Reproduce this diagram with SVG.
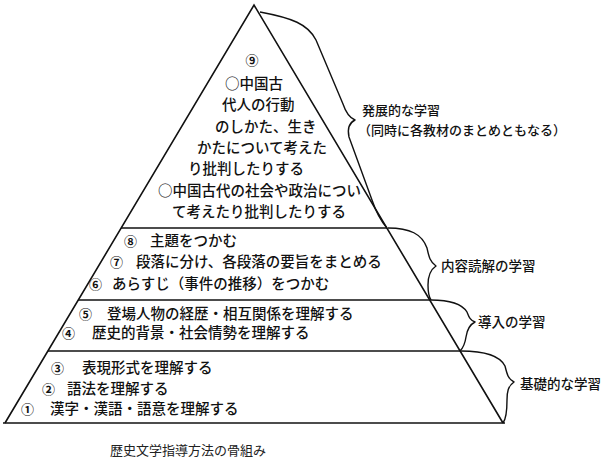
<svg xmlns="http://www.w3.org/2000/svg" width="605" height="463" viewBox="0 0 605 463">
<style>
  .t { font-family: "Noto Sans CJK JP", "Noto Sans CJK SC", sans-serif; font-size: 14.5px; font-weight: 500; fill: #111; }
  .n { font-family: "Noto Sans CJK JP", "Noto Sans CJK SC", sans-serif; font-size: 13px; font-weight: 700; fill: #111; }
  .lb { font-family: "Noto Sans CJK JP", "Noto Sans CJK SC", sans-serif; font-size: 13.5px; font-weight: 500; fill: #111; }
  .lb2 { font-family: "Noto Sans CJK JP", "Noto Sans CJK SC", sans-serif; font-size: 13px; font-weight: 500; fill: #111; }
  .cap { font-family: "Noto Sans CJK JP", "Noto Sans CJK SC", sans-serif; font-size: 13px; fill: #222; }
  .edge { fill: none; stroke: #111; stroke-width: 1.6; }
  .brace { fill: none; stroke: #111; stroke-width: 1.4; stroke-linejoin: round; }
</style>
<rect width="605" height="463" fill="#fff"/>

<g id="pyramid">
  <path class="edge" d="M5,423 L254,5 L503,423"/>
  <line class="edge" x1="3" y1="423" x2="505" y2="423"/>
  <line class="edge" x1="121" y1="228" x2="387" y2="228"/>
  <line class="edge" x1="78" y1="300" x2="430" y2="300"/>
  <line class="edge" x1="48" y1="351" x2="460" y2="351"/>
</g>

<g id="layer-top">
  <text class="n" x="252" y="65" text-anchor="middle">⑨</text>
  <text class="t" x="225" y="89">○中国古</text>
  <text class="t" x="222" y="110">代人の行動</text>
  <text class="t" x="215" y="132">のしかた、生き</text>
  <text class="t" x="197" y="153">かたについて考えた</text>
  <text class="t" x="188" y="174">り批判したりする</text>
  <text class="t" x="158" y="196">○中国古代の社会や政治につい</text>
  <text class="t" x="172" y="217">て考えたり批判したりする</text>
</g>

<g id="layer-reading">
  <text class="n" x="124" y="246">⑧</text>
  <text class="t" x="150" y="246">主題をつかむ</text>
  <text class="n" x="110" y="267">⑦</text>
  <text class="t" x="136" y="267">段落に分け、各段落の要旨をまとめる</text>
  <text class="n" x="89" y="289">⑥</text>
  <text class="t" x="112" y="289">あらすじ（事件の推移）をつかむ</text>
</g>

<g id="layer-intro">
  <text class="n" x="79" y="319">⑤</text>
  <text class="t" x="107" y="319">登場人物の経歴・相互関係を理解する</text>
  <text class="n" x="62" y="338">④</text>
  <text class="t" x="92" y="338">歴史的背景・社会情勢を理解する</text>
</g>

<g id="layer-basic">
  <text class="n" x="51" y="373">③</text>
  <text class="t" x="82" y="373">表現形式を理解する</text>
  <text class="n" x="42" y="394">②</text>
  <text class="t" x="67" y="394">語法を理解する</text>
  <text class="n" x="21" y="414">①</text>
  <text class="t" x="50" y="414">漢字・漢語・語意を理解する</text>
</g>

<g id="connectors">
  <path class="brace" d="M260,12 C292,18 308,24 316,40 L343,104 C346,113 350,118 355,120 C349,123 347,128 349,137 L372,200 C376,212 380,220 387,228"/>
  <path class="brace" d="M388,228 C410,228 422,234 427,248 C429,257 430,262 436,266 C430,270 428,276 428,285 C428,292 429,297 431,300"/>
  <path class="brace" d="M431,300 C450,300 462,304 467,312 C469,317 470,320 475,322 C469,325 467,330 466,337 C465,344 463,348 460,351"/>
  <path class="brace" d="M461,351 C485,351 500,356 505,366 C507,374 508,379 514,382 C508,386 507,392 507,400 C507,412 506,419 503,423"/>
</g>

<g id="label-develop">
  <text class="lb2" x="362" y="115">発展的な学習</text>
  <text class="lb2" x="358" y="135">（同時に各教材のまとめともなる）</text>
</g>
<g id="label-reading">
  <text class="lb" x="441" y="271">内容読解の学習</text>
</g>
<g id="label-intro">
  <text class="lb" x="478" y="327">導入の学習</text>
</g>
<g id="label-basic">
  <text class="lb" x="520" y="389">基礎的な学習</text>
</g>

<g id="caption">
  <text class="cap" x="110" y="455">歴史文学指導方法の骨組み</text>
</g>
</svg>
